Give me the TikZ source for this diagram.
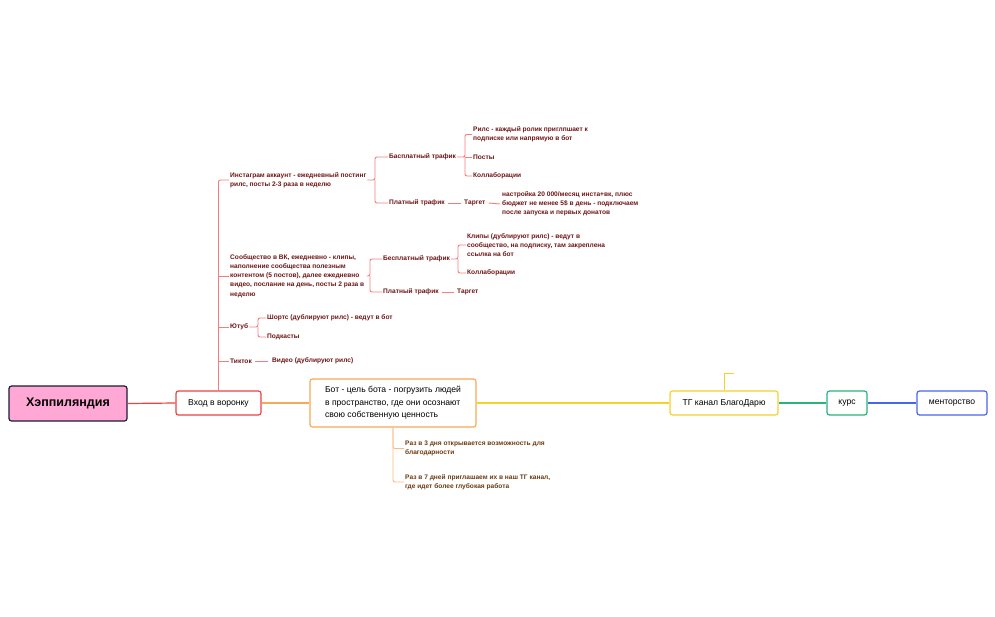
\documentclass[tikz,border=0pt]{standalone}
\usepackage{fontspec}
\setmainfont{Liberation Sans}
\begin{document}
\begin{tikzpicture}[x=1pt,y=-1pt,
  t/.style={anchor=west,inner sep=0pt,align=left,text=txt,font=\fontsize{6.6}{9.2}\selectfont\bfseries},
  to/.style={t,text=txo},
  box/.style={draw,line width=1.2pt,rounded corners=2.5pt,fill=white,inner sep=0pt,font=\fontsize{8.6}{12.5}\selectfont},
  rl/.style={draw=lred,line width=0.9pt,rounded corners=2pt},
  ol/.style={draw=lorg,line width=0.9pt,rounded corners=2pt}]
\definecolor{txt}{HTML}{6E1414}
\definecolor{txo}{HTML}{6B3A12}
\definecolor{lred}{HTML}{F47C7C}
\definecolor{lorg}{HTML}{F9BC7E}
\definecolor{cred}{HTML}{EE4040}
\definecolor{corg}{HTML}{F8A955}
\definecolor{cyel}{HTML}{F4D22C}
\definecolor{cgrn}{HTML}{27B47A}
\definecolor{cblu}{HTML}{4766F0}
\definecolor{cpink}{HTML}{FFA8D6}
\definecolor{cnavy}{HTML}{1C1B3A}
\useasboundingbox (0,0) rectangle (995,616);
% main nodes
\node[box,draw=cnavy,fill=cpink,minimum width=118,minimum height=35,font=\fontsize{12.5}{14}\selectfont\bfseries] (root) at (68,403.5) {Хэппиляндия};
\node[box,draw=cred,minimum width=85,minimum height=24] (vhod) at (218.5,403) {Вход в воронку};
\node[box,draw=corg,minimum width=166,minimum height=48,align=left] (bot) at (393,403) {Бот - цель бота - погрузить людей\\в пространство, где они осознают\\свою собственную ценность};
\node[box,draw=cyel,minimum width=108,minimum height=24] (tg) at (724,403) {ТГ канал БлагоДарю};
\node[box,draw=cgrn,minimum width=40,minimum height=24] (kurs) at (847,403) {курс};
\node[box,draw=cblu,minimum width=70,minimum height=24] (ment) at (952,403) {менторство};
\draw[cred,line width=1.2pt] (root.east) -- (vhod.west);
\draw[corg,line width=1.2pt] (vhod.east) -- (bot.west);
\draw[cyel,line width=1.2pt] (bot.east) -- (tg.west);
\draw[cgrn,line width=1.2pt] (tg.east) -- (kurs.west);
\draw[cblu,line width=1.2pt] (kurs.east) -- (ment.west);
\coordinate (tgend) at (734,373);
\draw[cyel,line width=1pt] (tg.north) |- (tgend);
% red tree
\node[t] (insta) at (230,180) {Инстаграм аккаунт - ежедневный постинг\\рилс, посты 2-3 раза в неделю};
\node[t] (vk) at (230,276) {Сообщество в ВК, ежедневно - клипы,\\наполнение сообщества полезным\\контентом (5 постов), далее ежедневно\\видео, послание на день, посты 2 раза в\\неделю};
\node[t] (yt) at (230,327) {Ютуб};
\node[t] (tt) at (230,361) {Тикток};
\draw[rl] (vhod.north) |- ([xshift=-1]insta.west);
\draw[rl] (218,276) -- ([xshift=-1]vk.west);
\draw[rl] (218,327) -- ([xshift=-1]yt.west);
\draw[rl] (218,361) -- ([xshift=-1]tt.west);
% instagram
\node[t] (ib) at (389,157) {Басплатный трафик};
\node[t] (ip) at (389,203) {Платный трафик};
\draw[rl] ([xshift=1]insta.east) -- (375,180) |- ([xshift=-1]ib.west);
\draw[rl] (375,180) |- ([xshift=-1]ip.west);
\node[t] (ir) at (473,134.5) {Рилс - каждый ролик приглпшает к\\подписке или напрямую в бот};
\node[t] (ipo) at (473,157) {Посты};
\node[t] (ik) at (473,176) {Коллаборации};
\draw[rl] ([xshift=1]ib.east) -- (465,157) |- ([xshift=-1]ir.west);
\draw[rl] (465,157) -- ([xshift=-1]ipo.west);
\draw[rl] (465,157) |- ([xshift=-1]ik.west);
\node[t] (itg) at (464,203) {Таргет};
\draw[rl] ([xshift=3]ip.east) -- ([xshift=-3]itg.west);
\node[t] (inas) at (502,204) {настройка 20 000/месяц инста+вк, плюс\\бюджет не менее 5\$ в день - подключаем\\после запуска и первых донатов};
\draw[rl] ([xshift=3]itg.east) -- ([xshift=-2]inas.west);
% vk
\node[t] (vb) at (383,259) {Бесплатный трафик};
\node[t] (vp) at (383,292) {Платный трафик};
\draw[rl] ([xshift=2]vk.east) -- (370,276) |- ([xshift=-1]vb.west);
\draw[rl] (370,276) |- ([xshift=-1]vp.west);
\node[t] (vkl) at (467,245) {Клипы (дублируют рилс) - ведут в\\сообщество, на подписку, там закреплена\\ссылка на бот};
\node[t] (vko) at (467,273) {Коллаборации};
\draw[rl] ([xshift=1]vb.east) -- (458,259) |- ([xshift=-1]vkl.west);
\draw[rl] (458,259) |- ([xshift=-1]vko.west);
\node[t] (vtg) at (457,292) {Таргет};
\draw[rl] ([xshift=3]vp.east) -- ([xshift=-3]vtg.west);
% youtube
\node[t] (ys) at (267,318) {Шортс (дублируют рилс) - ведут в бот};
\node[t] (yp) at (267,337) {Подкасты};
\draw[rl] ([xshift=1]yt.east) -- (258,327) |- ([xshift=-1]ys.west);
\draw[rl] (258,327) |- ([xshift=-1]yp.west);
% tiktok
\node[t] (tv) at (272,361) {Видео (дублируют рилс)};
\draw[rl] ([xshift=3]tt.east) -- ([xshift=-4]tv.west);
% bot subtree
\node[to] (b3) at (405,448.5) {Раз в 3 дня открывается возможность для\\благодарности};
\node[to] (b7) at (405,482) {Раз в 7 дней приглашаем их в наш ТГ канал,\\где идет более глубокая работа};
\draw[ol] (bot.south) |- ([xshift=-1]b3.west);
\draw[ol] (bot.south) |- ([xshift=-1]b7.west);
\end{tikzpicture}
\end{document}
